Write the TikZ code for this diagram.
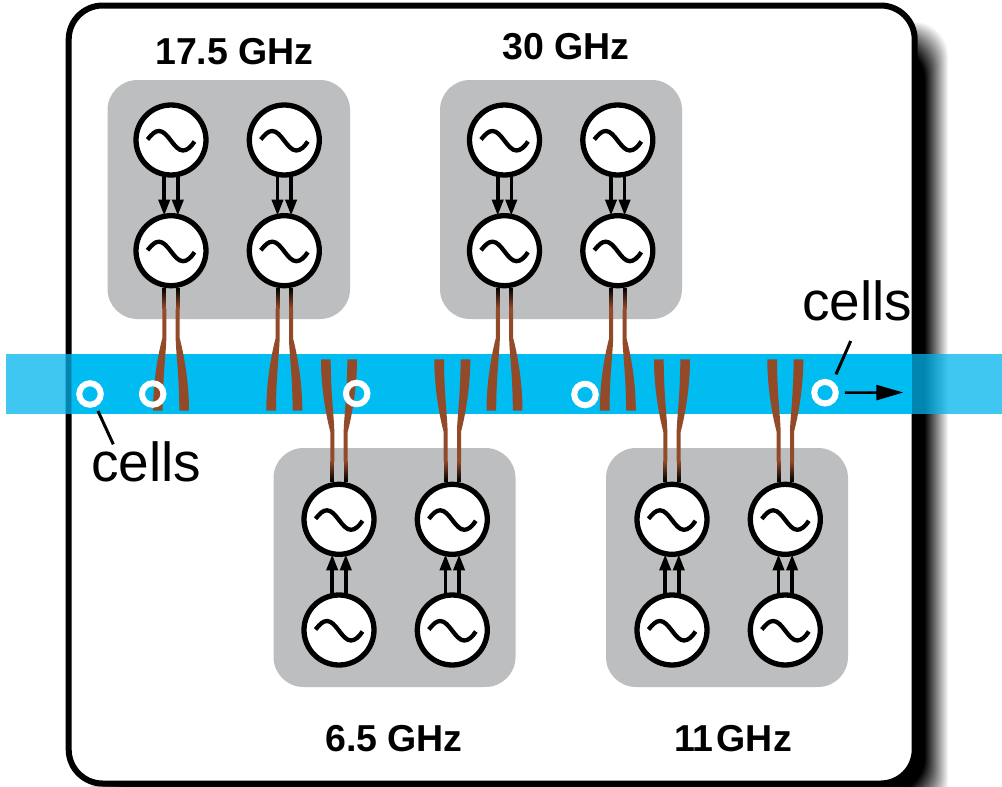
\documentclass[tikz,border=0pt]{standalone}
\usepackage{fontspec}
\setmainfont{Liberation Sans}
\usetikzlibrary{arrows.meta}
\definecolor{panelgray}{HTML}{BCBEC0}
\definecolor{bandin}{HTML}{00BCF1}
\definecolor{bandout}{HTML}{00B4EC}
\definecolor{feedbrown}{HTML}{934A29}
\tikzset{
  x=1pt,y=-1pt,
  panel/.style={fill=panelgray,rounded corners=30pt},
  osc/.style={circle,draw=black,fill=white,line width=5.3pt,minimum size=70pt,inner sep=0pt,outer sep=0pt,
    path picture={\draw[line width=4.3pt,shift={(path picture bounding box.center)}]
      (-23.5,-.5) .. controls (-19,-6) and (-16,-9) .. (-12,-9)
      .. controls (-3,-9) and (3,10.5) .. (12,10.5)
      .. controls (16,10.5) and (20,7) .. (23.5,1.5);}},
  link/.style={line width=3.6pt,-{Triangle[length=16pt,width=11pt]}},
  cellring/.style={circle,draw=white,line width=6pt,minimum size=21.5pt,inner sep=0pt,outer sep=0pt},
  leader/.style={line width=3pt},
  freq/.style={font=\fontsize{37.5}{40}\selectfont\bfseries,inner sep=0pt,anchor=base west},
  celltext/.style={font=\fontsize{55}{57}\selectfont,inner sep=0pt,anchor=base west},
}
\newcommand{\feeders}[2]{%
  \begin{scope}[shift={(#1.center)},yscale=#2]
    \foreach \side in {1,-1}{
      \begin{scope}[xscale=\side]
        % gradient from the oscillator rim into the brown feed
        \foreach \k in {0,...,20}{
          \pgfmathsetmacro\q{\k/20*100}
          \fill[feedbrown!\q!black] (4.7,{37+\k*1}) rectangle (8.7,{37+\k*1+1.2});
        }
        \fill[feedbrown] (4.7,57.8) -- (4.7,87.5)
          .. controls (4.7,100) and (8.3,125) .. (8.3,160)
          -- (18,160)
          .. controls (18,130) and (12.5,102) .. (8.7,87.5)
          -- (8.7,57.8) -- cycle;
      \end{scope}
    }
  \end{scope}
}
\begin{document}
\begin{tikzpicture}
\useasboundingbox (0,0) rectangle (1002,787);
\clip (0,0) rectangle (1002,787);
% drop shadow
\foreach \e in {12,11,...,-12}{
  \pgfmathsetmacro\p{(12-\e)/24*100}
  \fill[black!\p,rounded corners=35pt] (100-\e,33-\e) rectangle (937+\e,805+\e);
}
% frame
\node[draw=black,fill=white,line width=6pt,rounded corners=34pt,minimum width=846pt,minimum height=778pt,inner sep=0pt,outer sep=0pt] (frame) at (491.7,394.5) {};
% panels
\fill[panel] (107.5,80) rectangle (350,319);
\fill[panel] (440,80) rectangle (682,319);
\fill[panel] (273.5,448) rectangle (515.5,687);
\fill[panel] (606,448) rectangle (848,687);
% band
\fill[bandout,opacity=.75] (6,354) rectangle (1002,413.5);
\fill[bandin] (71.7,354) rectangle (912.3,413.5);
% oscillators
\node[osc] (a1) at (171,140) {};   \node[osc] (a2) at (171,250.7) {};
\node[osc] (b1) at (284.3,140) {}; \node[osc] (b2) at (284.3,250.7) {};
\node[osc] (c1) at (504.5,140) {}; \node[osc] (c2) at (504.5,250.7) {};
\node[osc] (d1) at (617.8,140) {}; \node[osc] (d2) at (617.8,250.7) {};
\node[osc] (e1) at (339,630) {};   \node[osc] (e2) at (339,519.3) {};
\node[osc] (f1) at (452.3,630) {}; \node[osc] (f2) at (452.3,519.3) {};
\node[osc] (g1) at (672,630) {};   \node[osc] (g2) at (672,519.3) {};
\node[osc] (h1) at (785.3,630) {}; \node[osc] (h2) at (785.3,519.3) {};
% links
\foreach \s/\t/\u/\v in {a1/a2/south/north,b1/b2/south/north,c1/c2/south/north,d1/d2/south/north,
                         e1/e2/north/south,f1/f2/north/south,g1/g2/north/south,h1/h2/north/south}{
  \draw[link] ([xshift=-6.8pt]\s.\u) -- ([xshift=-6.8pt]\t.\v);
  \draw[link] ([xshift=6.8pt]\s.\u) -- ([xshift=6.8pt]\t.\v);
}
% feeders
\feeders{a2}{1}\feeders{b2}{1}\feeders{c2}{1}\feeders{d2}{1}
\feeders{e2}{-1}\feeders{f2}{-1}\feeders{g2}{-1}\feeders{h2}{-1}
% cells
\node[cellring] (r1) at (90,394) {};
\node[cellring] (r2) at (152.7,394) {};
\node[cellring] (r3) at (356.7,393.5) {};
\node[cellring] (r4) at (585,394.5) {};
\node[cellring] (r5) at (825,392.7) {};
% labels
\node[freq] at (155,64) {17.5 GHz};
\node[freq] at (502,59.3) {30 GHz};
\node[freq] at (325,751) {6.5 GHz};
\node[freq] at (674,751) {11\hspace{3pt}GHz};
\node[celltext] (lc) at (91,481.7) {cells};
\node[celltext] (rc) at (802,320.7) {cells};
\coordinate (lca) at (113.3,444.3);
\coordinate (lcb) at (98,411);
\coordinate (rca) at (850.7,341);
\coordinate (rcb) at (836,374.3);
\coordinate (arrowend) at (903.3,392.5);
\draw[leader] (lcb) -- (lca);
\draw[leader] (rca) -- (rcb);
\draw[line width=2.5pt,-{Triangle[length=27pt,width=15pt]},shorten <=9pt] (r5.east) -- (arrowend);
\end{tikzpicture}
\end{document}
